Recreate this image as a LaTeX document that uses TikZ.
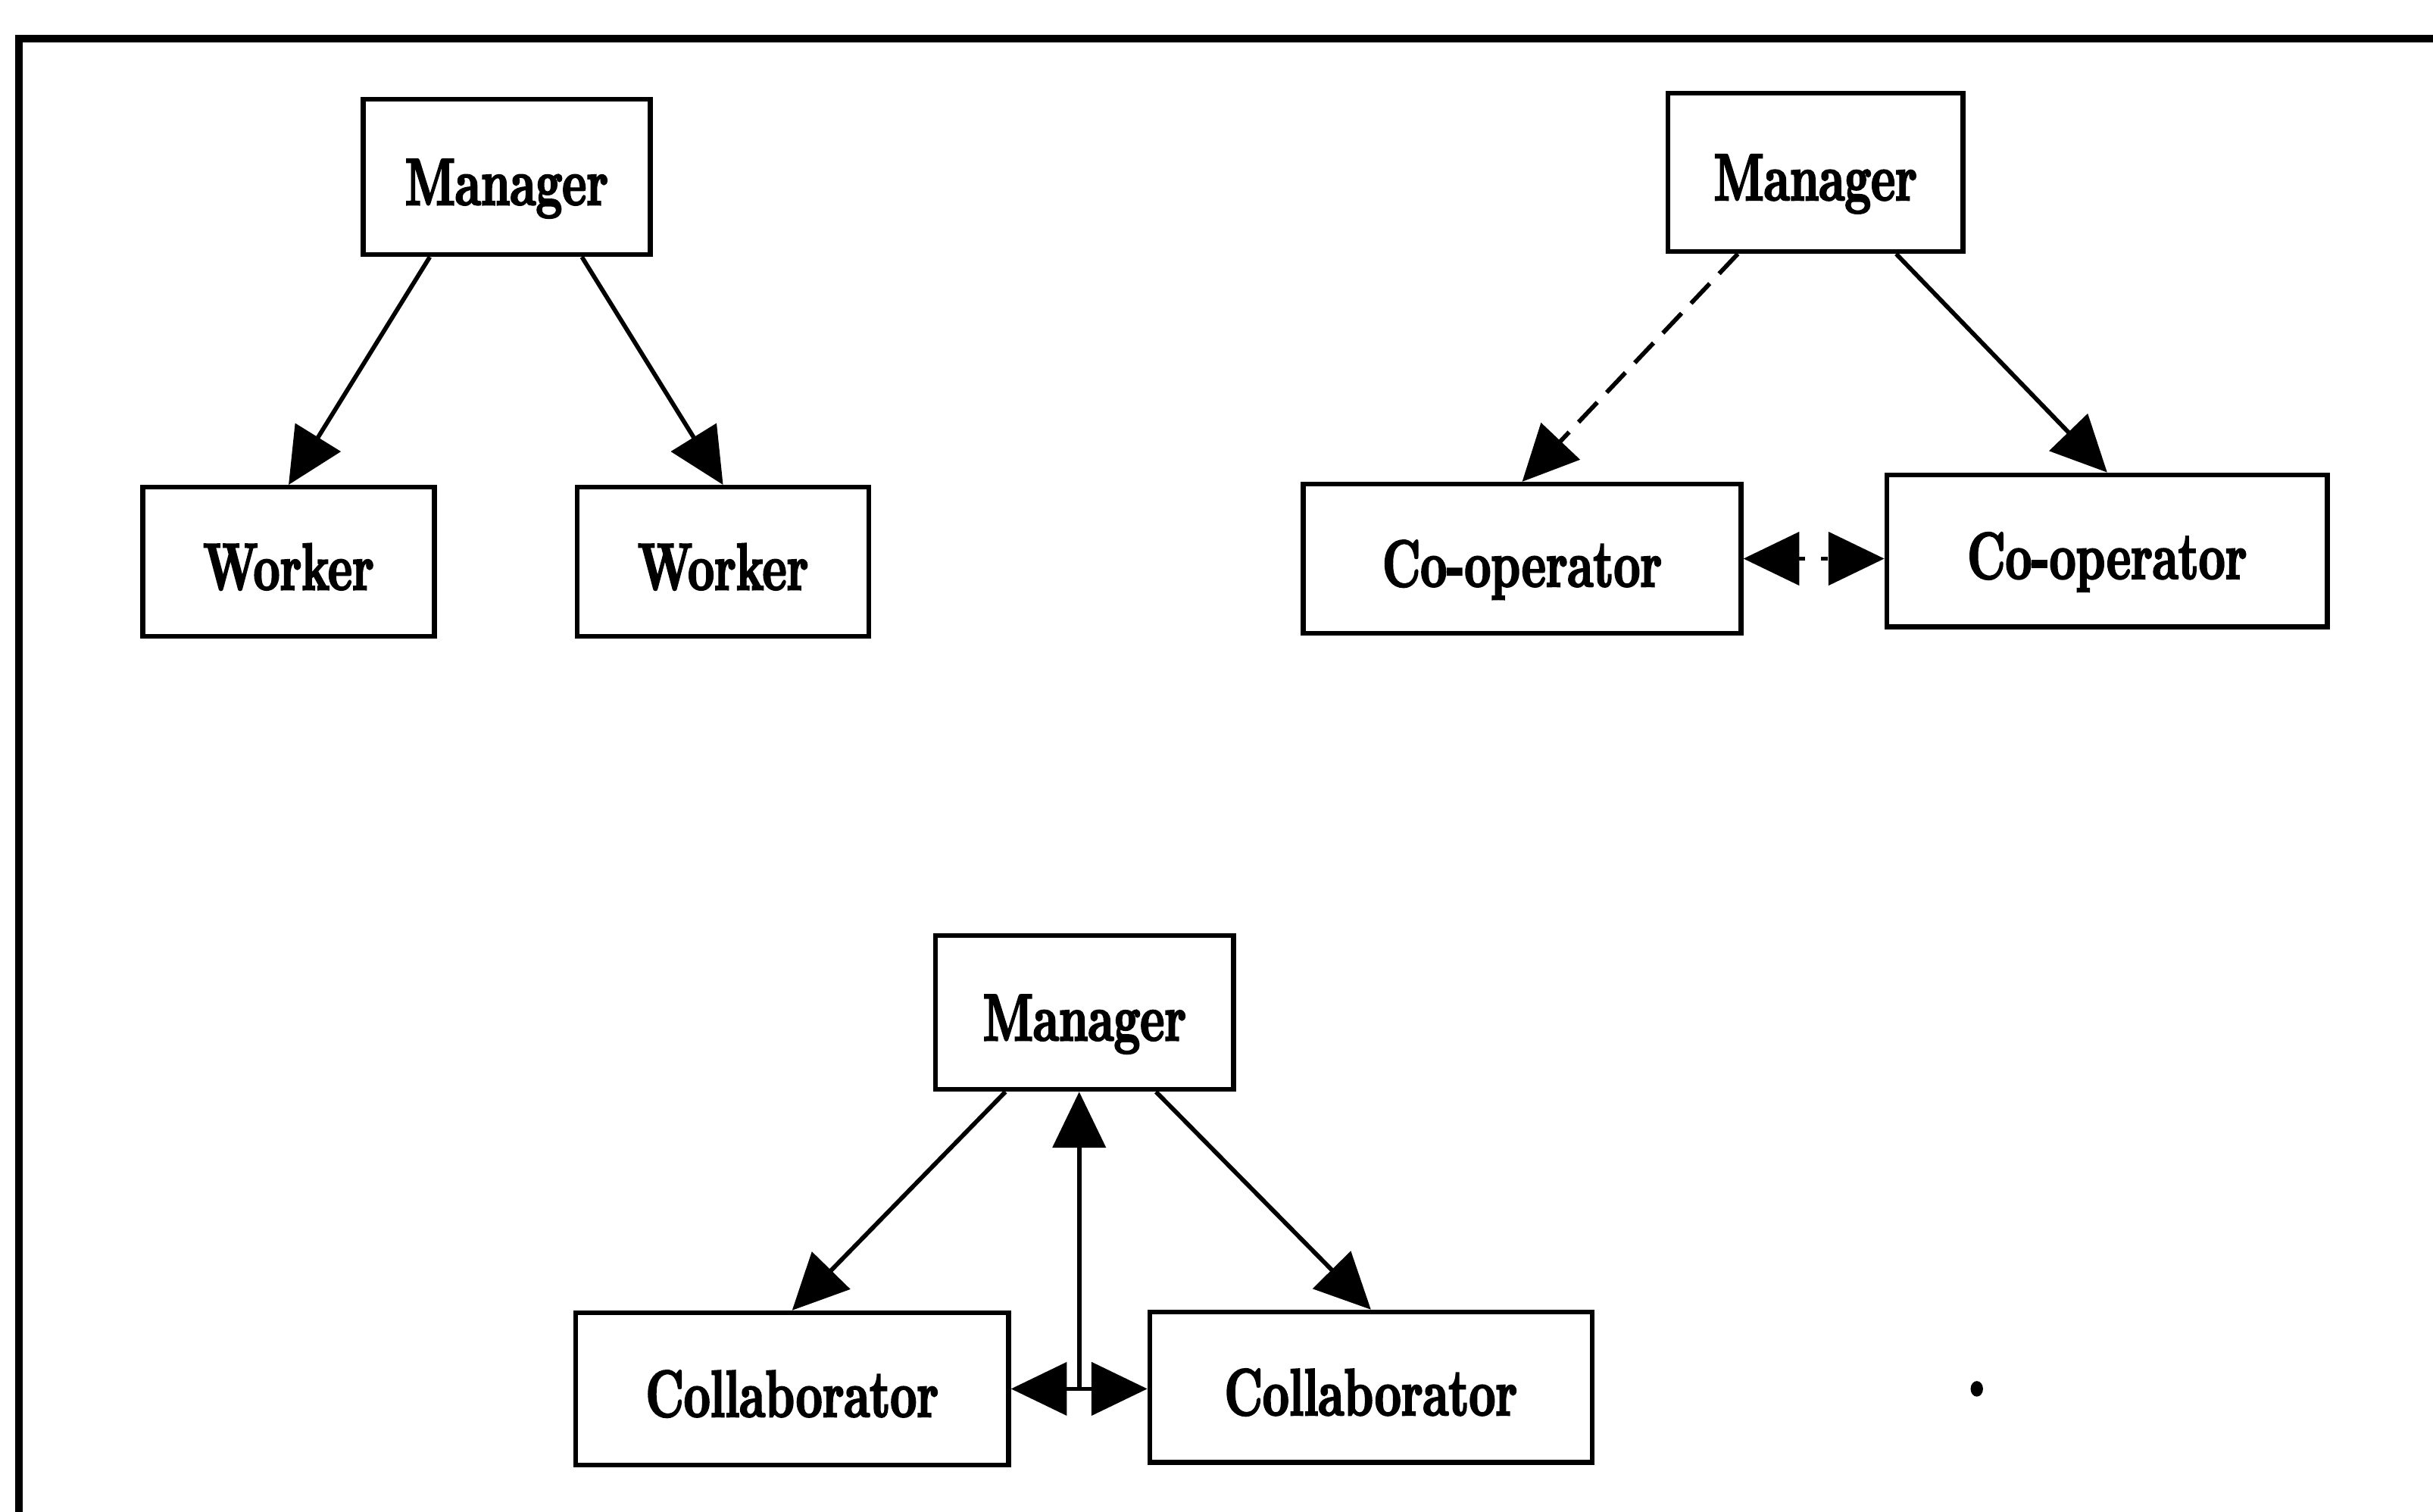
\documentclass[tikz,border=0pt]{standalone}
\usepackage{fontspec}
\usetikzlibrary{arrows.meta,calc}

% heavy, narrow serif face for the role boxes
\newfontfamily\rolefont{lmroman10-bold.otf}[FakeStretch=0.69, FakeBold=2.5]
\newcommand{\rolelabel}[1]{{\fontsize{12.2}{14}\rolefont #1}}

\tikzset{
  role/.style={draw, line width=0.9pt, inner sep=0pt, text height=4mm, text depth=0.4mm},
  tip/.tip={Triangle[length=3.6mm,width=3.4mm]},
  link/.style={line width=0.8pt, -tip},
  mutual/.style={line width=0.8pt, tip-tip},
  broken/.style={dash pattern=on 5pt off 2.5pt},
}

\begin{document}
\begin{tikzpicture}[x=0.1mm, y=-0.1mm]
  \useasboundingbox (0,0) rectangle (1568,974);

  % outer frame (top and left edges)
  \draw[line width=1.4pt] (12,980) -- (12,25) -- (1575,25);

  % --- manager with workers ---
  \node[role, minimum width=18.5mm, minimum height=10mm]   (m1) at (326.5,114) {\rolelabel{Manager}};
  \node[role, minimum width=18.8mm, minimum height=9.6mm]  (w1) at (186,362)   {\rolelabel{Worker}};
  \node[role, minimum width=18.8mm, minimum height=9.6mm]  (w2) at (466,362)   {\rolelabel{Worker}};
  \draw[link] ([xshift=-4.95mm]m1.south) -- (w1.north);
  \draw[link] ([xshift=4.85mm]m1.south)  -- (w2.north);

  % --- manager with co-operators ---
  \node[role, minimum width=19mm,   minimum height=10.2mm] (m2) at (1170,111) {\rolelabel{Manager}};
  \node[role, minimum width=28.2mm, minimum height=9.6mm]  (c1) at (981,360)  {\rolelabel{Co-operator}};
  \node[role, minimum width=28.4mm, minimum height=9.8mm]  (c2) at (1358,355) {\rolelabel{Co-operator}};
  \draw[link, broken] ([xshift=-5mm]m2.south) -- (c1.north);
  \draw[link] ([xshift=5.2mm]m2.south) -- (c2.north);
  \draw[mutual, dash pattern=on 1.2pt off 3pt] (c1.east) -- (c1.east -| c2.west);

  % --- manager with collaborators ---
  \node[role, minimum width=19.2mm, minimum height=9.9mm]  (m3) at (699,652.5) {\rolelabel{Manager}};
  \node[role, minimum width=27.9mm, minimum height=9.8mm]  (l3) at (510.5,895) {\rolelabel{Collaborator}};
  \node[role, minimum width=28.5mm, minimum height=9.7mm]  (r3) at (883.5,894) {\rolelabel{Collaborator}};
  \draw[link] ([xshift=-5.1mm]m3.south) -- (l3.north);
  \draw[link] ([xshift=4.6mm]m3.south)  -- (r3.north);
  \draw[mutual] (l3.east) -- (l3.east -| r3.west);
  \coordinate (hub) at ($(l3.east)!0.5!(l3.east -| r3.west)$);
  \draw[link] (hub) -- (hub |- m3.south);

  % small stray mark
  \fill (1274,895) ellipse [x radius=0.4mm, y radius=0.5mm];
\end{tikzpicture}
\end{document}
